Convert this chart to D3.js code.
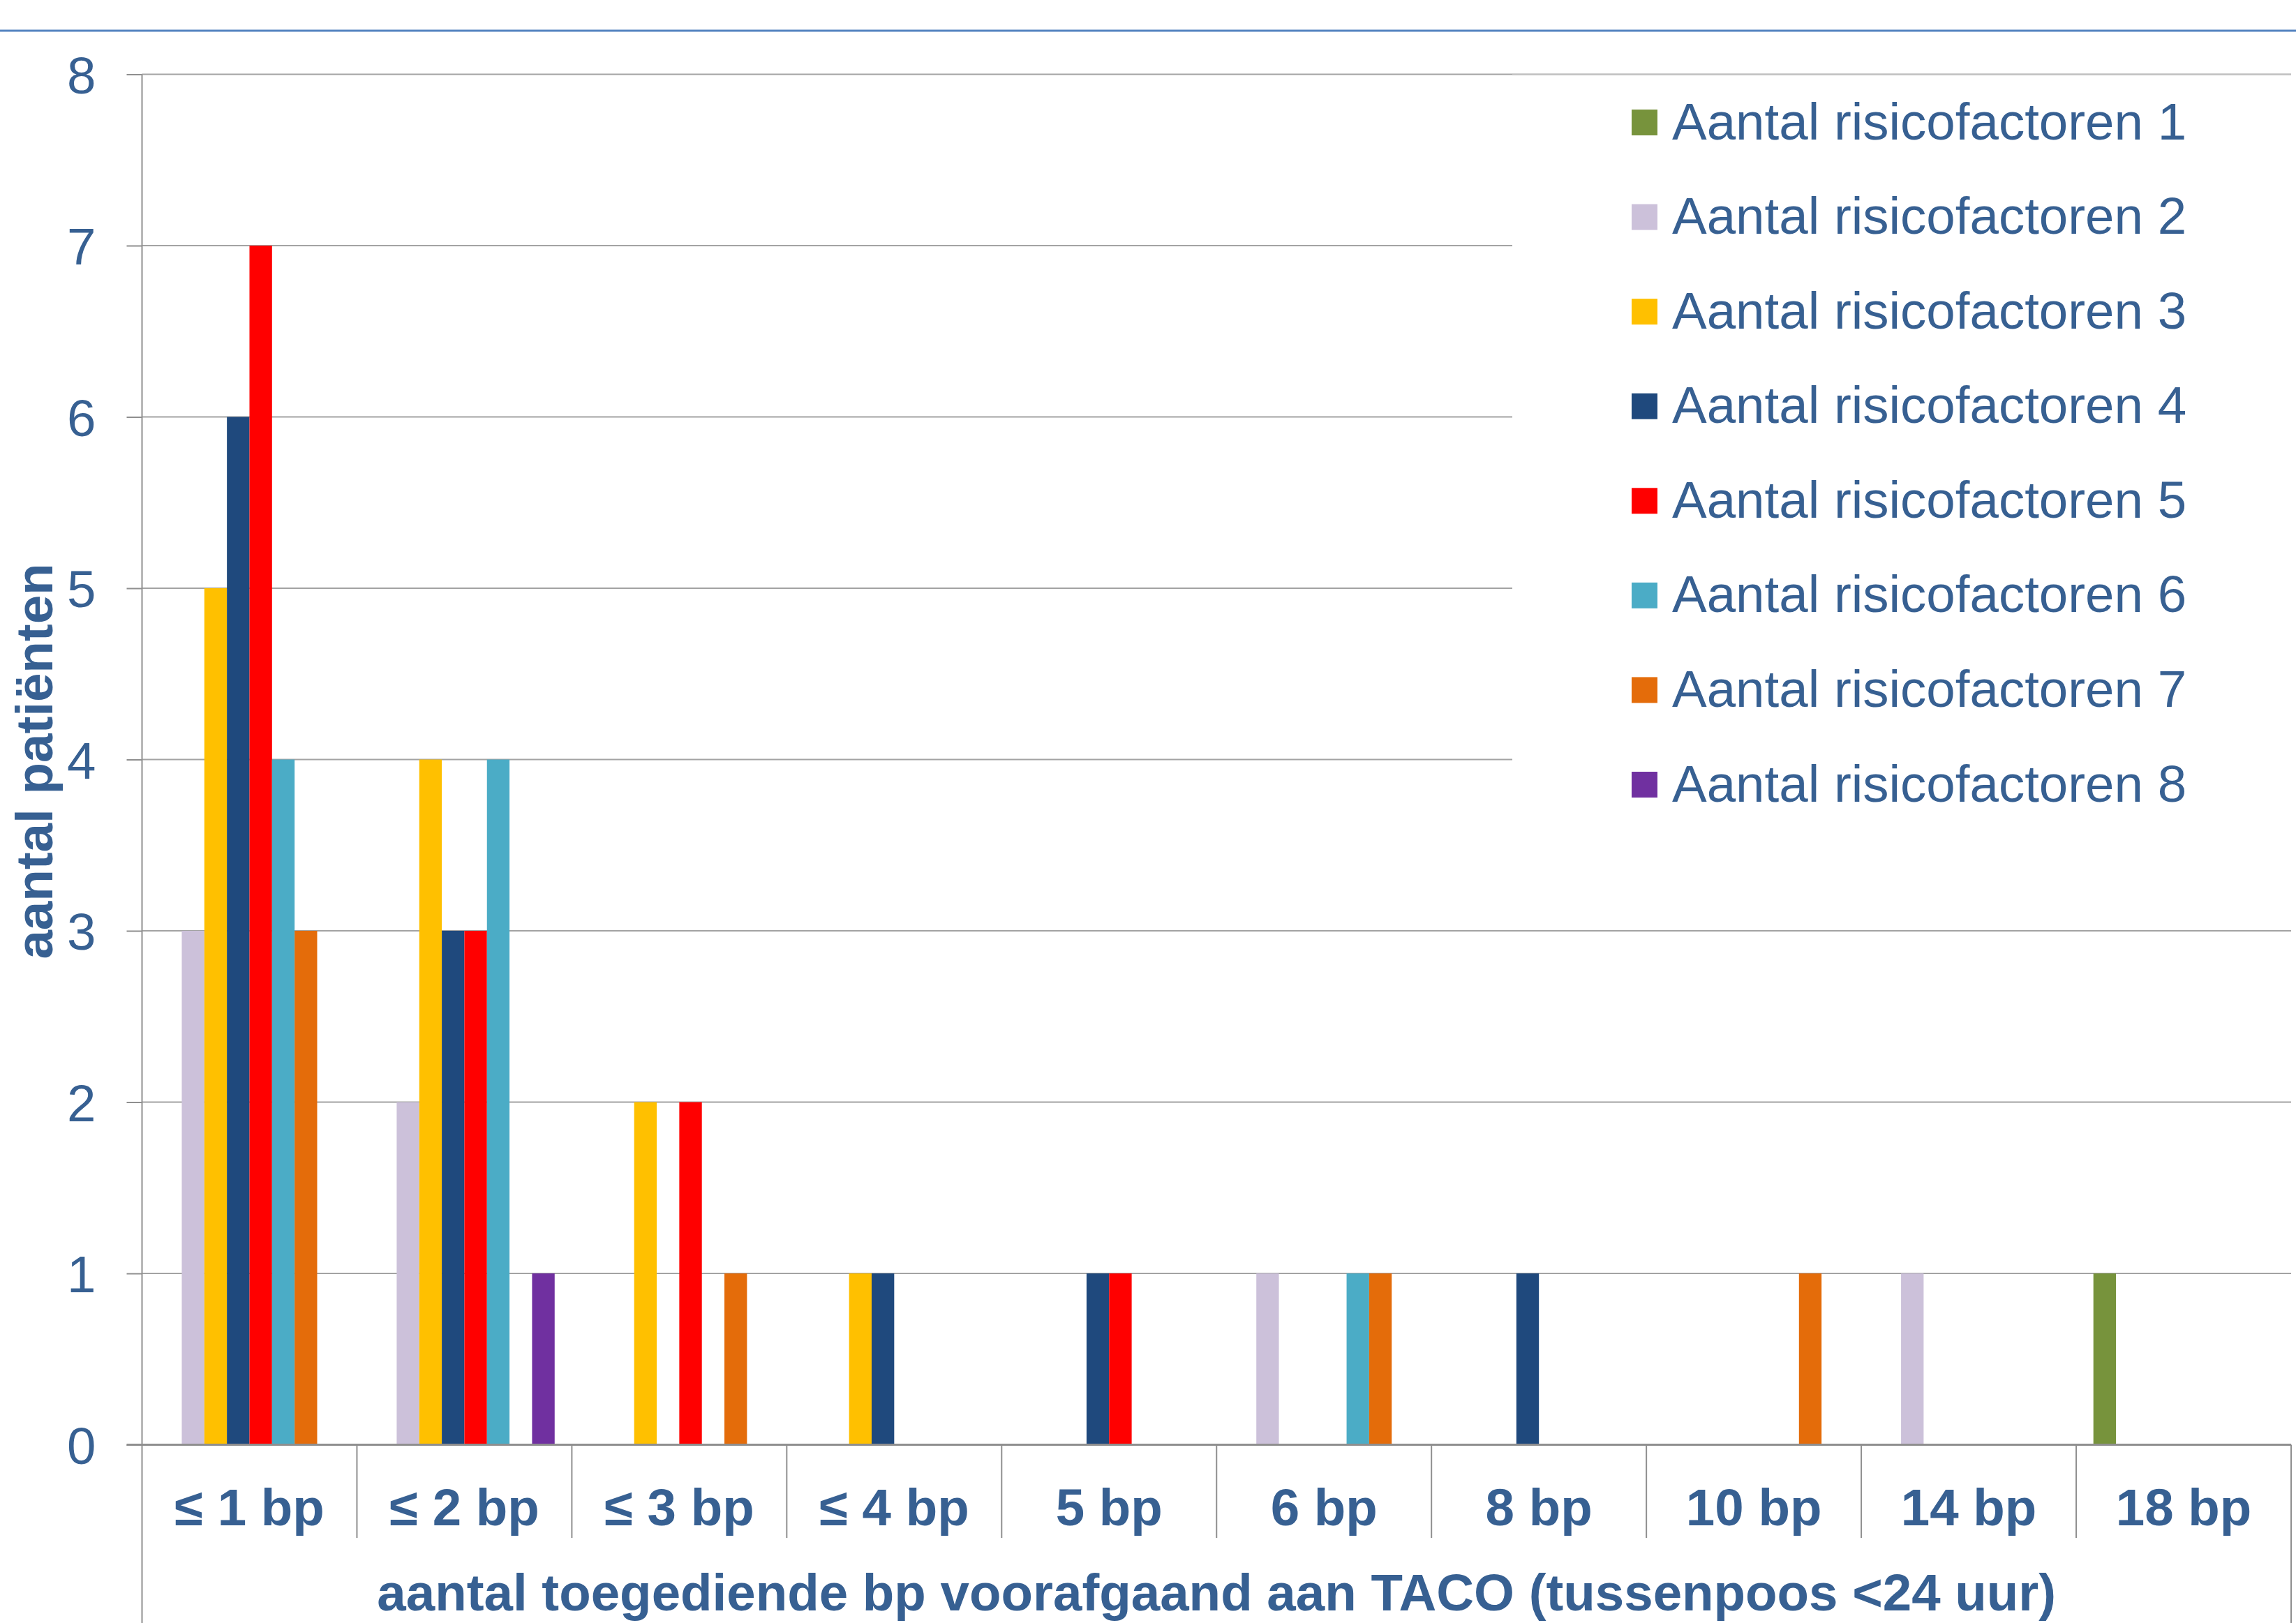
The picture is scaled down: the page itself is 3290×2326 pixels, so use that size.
<!DOCTYPE html>
<html>
<head>
<meta charset="utf-8">
<script src="https://cdn.jsdelivr.net/npm/d3@7"></script>
<style>
  html, body { margin: 0; padding: 0; background: #ffffff; }
  svg { display: block; }
  text { font-family: "Liberation Sans", Arial, sans-serif; }
</style>
</head>
<body>
<svg id="chart" width="3290" height="2326"></svg>
<script>
// Categories: number of blood products given before TACO
const categories = ["≤ 1 bp", "≤ 2 bp", "≤ 3 bp", "≤ 4 bp", "5 bp", "6 bp", "8 bp", "10 bp", "14 bp", "18 bp"];

// Series names (number of risk factors)
const seriesNames = [
  "Aantal risicofactoren 1", "Aantal risicofactoren 2", "Aantal risicofactoren 3",
  "Aantal risicofactoren 4", "Aantal risicofactoren 5", "Aantal risicofactoren 6",
  "Aantal risicofactoren 7", "Aantal risicofactoren 8"
];

// Patient counts per category, one array per series
const risico1 = [0, 0, 0, 0, 0, 0, 0, 0, 0, 1];
const risico2 = [3, 2, 0, 0, 0, 1, 0, 0, 1, 0];
const risico3 = [5, 4, 2, 1, 0, 0, 0, 0, 0, 0];
const risico4 = [6, 3, 0, 1, 1, 0, 1, 0, 0, 0];
const risico5 = [7, 3, 2, 0, 1, 0, 0, 0, 0, 0];
const risico6 = [4, 4, 0, 0, 0, 1, 0, 0, 0, 0];
const risico7 = [3, 0, 1, 0, 0, 1, 0, 1, 0, 0];
const risico8 = [0, 1, 0, 0, 0, 0, 0, 0, 0, 0];

const seriesColors = ["#77933C", "#CCC1DA", "#FFC000", "#1F497D", "#FF0000", "#4BACC6", "#E46C0A", "#7030A0"];

const yTickValues = [0, 1, 2, 3, 4, 5, 6, 7, 8];

const yTitle = "aantal patiënten";
const xTitle = "aantal toegediende bp voorafgaand aan TACO (tussenpoos <24 uur)";

const allSeries = [risico1, risico2, risico3, risico4, risico5, risico6, risico7, risico8];

// ---- layout ----
const W = 3290, H = 2326;
const plotLeft = 203.5, plotRight = 3283, plotTop = 106.5, plotBottom = 2070.5;
const textColor = "#376092";
const gridColor = "#A3A3A3";
const axisColor = "#8F8F8F";
const fontSize = 74.5;

const svg = d3.select("#chart");

svg.append("rect").attr("width", W).attr("height", H).attr("fill", "#ffffff");

// top rule
svg.append("line")
  .attr("x1", 0).attr("x2", W).attr("y1", 44).attr("y2", 44)
  .attr("stroke", "#5483C0").attr("stroke-width", 3);

const x0 = d3.scaleBand().domain(categories).range([plotLeft, plotRight]).padding(0);
const bw = x0.bandwidth();
const x1 = d3.scaleBand().domain(d3.range(seriesNames.length))
  .range([bw * 0.08, bw * 0.92]).padding(0);
const y = d3.scaleLinear().domain([0, 8]).range([plotBottom, plotTop]);

// horizontal gridlines
svg.append("g").selectAll("line").data(yTickValues.filter(v => v > 0)).join("line")
  .attr("x1", plotLeft).attr("x2", plotRight)
  .attr("y1", d => y(d)).attr("y2", d => y(d))
  .attr("stroke", gridColor).attr("stroke-width", 2);

// y axis with outward ticks
const yAxis = d3.axisLeft(y).tickValues(yTickValues).tickSize(22).tickPadding(44).tickFormat(d3.format("d"));
const yg = svg.append("g").attr("transform", `translate(${plotLeft},0)`).call(yAxis);
yg.select(".domain").remove();
yg.selectAll(".tick line").attr("stroke", axisColor).attr("stroke-width", 2);
yg.selectAll(".tick text")
  .attr("fill", textColor).attr("font-size", fontSize)
  .attr("font-family", "'Liberation Sans', Arial, sans-serif")
  .attr("dy", "0.36em");

// bars
const groups = svg.append("g").selectAll("g").data(categories).join("g")
  .attr("transform", d => `translate(${x0(d)},0)`);
groups.selectAll("rect")
  .data((d, ci) => allSeries.map((s, si) => ({ si, v: s[ci] })).filter(e => e.v > 0))
  .join("rect")
  .attr("x", d => x1(d.si))
  .attr("width", x1.bandwidth())
  .attr("y", d => y(d.v))
  .attr("height", d => y(0) - y(d.v))
  .attr("fill", d => seriesColors[d.si]);

// x axis baseline
svg.append("line")
  .attr("x1", plotLeft - 22).attr("x2", plotRight)
  .attr("y1", y(0)).attr("y2", y(0))
  .attr("stroke", axisColor).attr("stroke-width", 3);

// left axis line running down through the category rows
svg.append("line")
  .attr("x1", plotLeft).attr("x2", plotLeft)
  .attr("y1", plotTop).attr("y2", H)
  .attr("stroke", axisColor).attr("stroke-width", 2);
// right outer border of the category rows
svg.append("line")
  .attr("x1", plotRight).attr("x2", plotRight)
  .attr("y1", y(0)).attr("y2", H)
  .attr("stroke", axisColor).attr("stroke-width", 2);

// category separators
svg.append("g").selectAll("line").data(categories.slice(1)).join("line")
  .attr("x1", d => x0(d)).attr("x2", d => x0(d))
  .attr("y1", y(0)).attr("y2", 2204)
  .attr("stroke", axisColor).attr("stroke-width", 2);

// category labels
svg.append("g").selectAll("text").data(categories).join("text")
  .attr("x", d => x0(d) + bw / 2)
  .attr("y", 2186)
  .attr("text-anchor", "middle")
  .attr("font-size", fontSize).attr("font-weight", "bold")
  .attr("fill", textColor)
  .text(d => d);

// x axis title
svg.append("text")
  .attr("x", (plotLeft + plotRight) / 2).attr("y", 2308)
  .attr("text-anchor", "middle")
  .attr("font-size", fontSize).attr("font-weight", "bold")
  .attr("fill", textColor)
  .text(xTitle);

// y axis title
svg.append("text")
  .attr("transform", `translate(75,1091) rotate(-90)`)
  .attr("text-anchor", "middle")
  .attr("font-size", fontSize).attr("font-weight", "bold")
  .attr("fill", textColor)
  .text(yTitle);

// legend box
const legendLeft = 2167;
svg.append("rect")
  .attr("x", legendLeft).attr("y", 106)
  .attr("width", plotRight - legendLeft).attr("height", 1180)
  .attr("fill", "#ffffff");
svg.append("line")
  .attr("x1", legendLeft).attr("x2", plotRight)
  .attr("y1", 107).attr("y2", 107)
  .attr("stroke", "#C4C4C4").attr("stroke-width", 2);

const legendRowY = d3.scaleLinear().domain([0, seriesNames.length - 1]).range([175.5, 1124.5]);
const lg = svg.append("g").selectAll("g").data(seriesNames).join("g")
  .attr("transform", (d, i) => `translate(0,${legendRowY(i)})`);
lg.append("rect")
  .attr("x", 2338).attr("y", -18.5).attr("width", 37).attr("height", 37)
  .attr("fill", (d, i) => seriesColors[i]);
lg.append("text")
  .attr("x", 2396).attr("y", 24)
  .attr("font-size", fontSize)
  .attr("fill", textColor)
  .text(d => d);
</script>
</body>
</html>
